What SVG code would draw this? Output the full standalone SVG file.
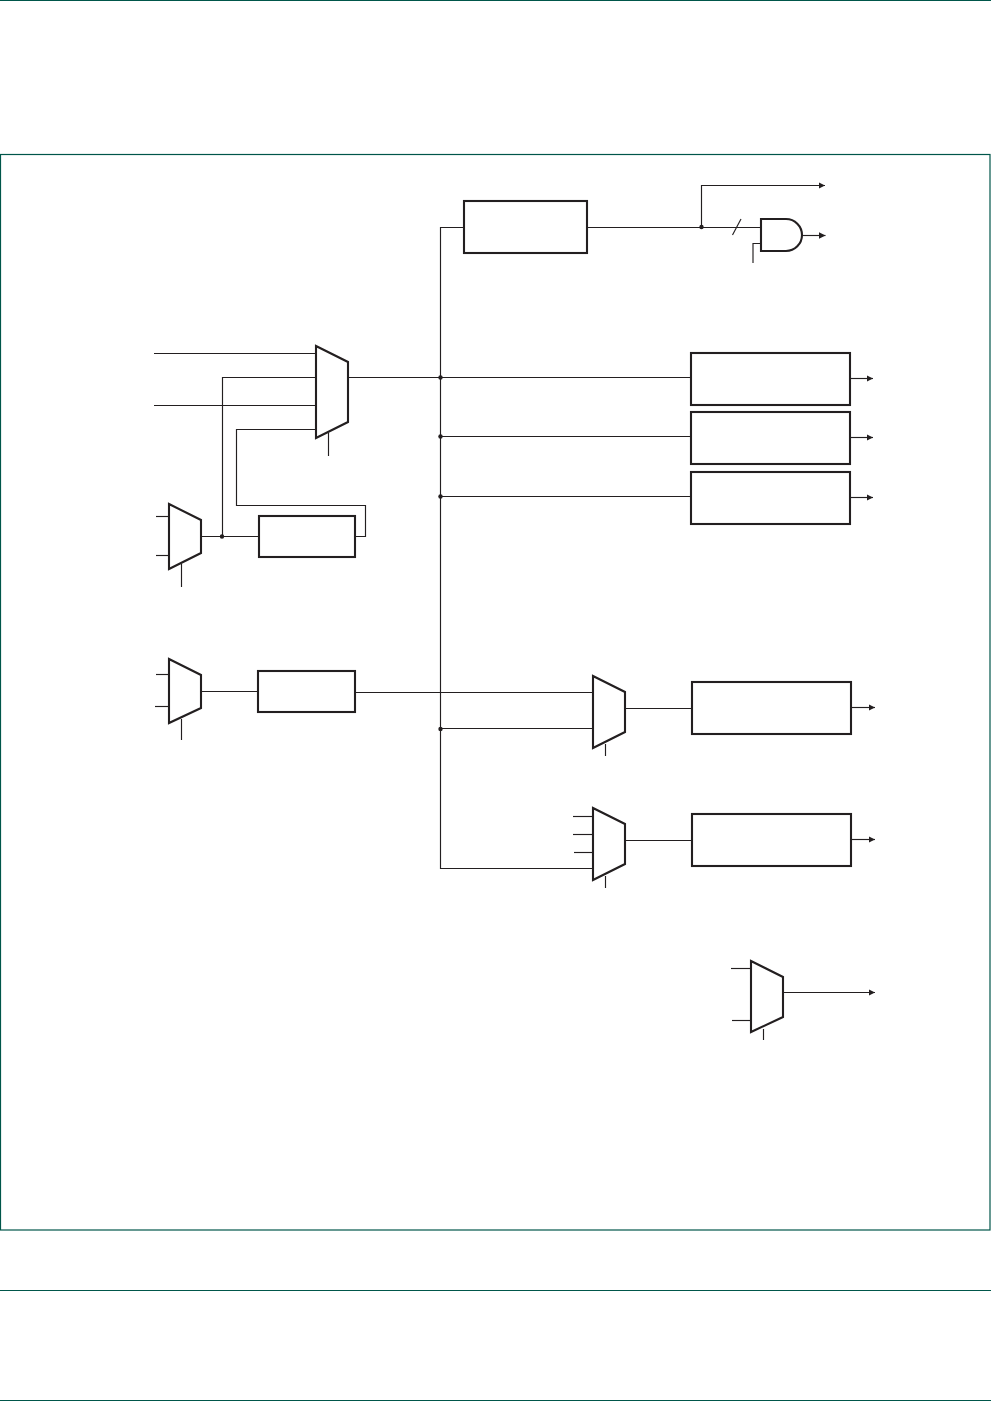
<svg xmlns="http://www.w3.org/2000/svg" width="991" height="1401" viewBox="0 0 991 1401">
<style>
.frame{fill:none;stroke:#00564a;stroke-width:1.2}
.w{fill:none;stroke:#231f20;stroke-width:1.15}
.b{fill:#fff;stroke:#231f20;stroke-width:2.1}
</style>
<defs><marker id="a" markerUnits="userSpaceOnUse" markerWidth="8" markerHeight="8" refX="6.500" refY="4" orient="auto"><path d="M0 .8L6.500 4L0 7.200z" fill="#231f20"/></marker></defs>
<rect width="991" height="1401" fill="#fff"/>
<g id="page-frame">
<line class="frame" x1="0" y1="0.5" x2="991" y2="0.5"/>
<rect class="frame" x="0.500" y="154.500" width="989.500" height="1075.500"/>
<line class="frame" x1="0" y1="1290.500" x2="991" y2="1290.500"/>
<line class="frame" x1="0" y1="1400.500" x2="991" y2="1400.500"/>
</g>
<g id="connectors">
<path class="w" d="M464 227.500H440.500V868.500H593"/>
<path class="w" d="M587 227.500H761"/>
<path class="w" d="M701.500 227.500V185.500H825" marker-end="url(#a)"/>
<path class="w" d="M732.500 235L741 219"/>
<path class="w" d="M802 235.500H825.500" marker-end="url(#a)"/>
<path class="w" d="M761 243.500H753V263"/>
<path class="w" d="M154 353.500H316"/>
<path class="w" d="M154 405.500H316"/>
<path class="w" d="M316 377.500H222.500V536.500"/>
<path class="w" d="M316 429.500H236.500V505.500H365.500V536.500H355"/>
<path class="w" d="M348 377.500H691"/>
<path class="w" d="M440 436.500H691"/>
<path class="w" d="M440 496.500H691"/>
<path class="w" d="M328.500 433V456"/>
<path class="w" d="M201 536.500H259"/>
<path class="w" d="M156 516.500H169"/>
<path class="w" d="M156 555.500H169"/>
<path class="w" d="M181.500 564V587"/>
<path class="w" d="M156 674.500H169"/>
<path class="w" d="M155 706.500H169"/>
<path class="w" d="M181.500 719V740"/>
<path class="w" d="M201 691.500H258"/>
<path class="w" d="M355 692.500H593"/>
<path class="w" d="M440 728.500H593"/>
<path class="w" d="M605.500 744V756"/>
<path class="w" d="M573 816.500H593"/>
<path class="w" d="M573 834.500H593"/>
<path class="w" d="M574 852.500H593"/>
<path class="w" d="M605.500 876V888"/>
<path class="w" d="M625 708.500H692"/>
<path class="w" d="M625 840.500H692"/>
<path class="w" d="M850 378.500H873" marker-end="url(#a)"/>
<path class="w" d="M850 437.500H873" marker-end="url(#a)"/>
<path class="w" d="M850 497.500H873" marker-end="url(#a)"/>
<path class="w" d="M851 707.500H875" marker-end="url(#a)"/>
<path class="w" d="M851 839.500H875" marker-end="url(#a)"/>
<path class="w" d="M731 968.500H751"/>
<path class="w" d="M732 1020.500H751"/>
<path class="w" d="M783 992.500H875" marker-end="url(#a)"/>
<path class="w" d="M763.500 1029V1040"/>
<g fill="#231f20"><circle cx="701.500" cy="227" r="2.200"/><circle cx="440.500" cy="377.500" r="2.200"/><circle cx="440.500" cy="436.500" r="2.200"/><circle cx="440.500" cy="496.500" r="2.200"/><circle cx="222" cy="536.500" r="2.200"/><circle cx="440.500" cy="729" r="2.200"/></g>
</g>
<g id="box-top"><rect class="b" x="464" y="201" width="123" height="52"/></g>
<g id="and-gate"><path class="b" d="M761 219H786A16 16 0 0 1 786 251H761Z"/></g>
<g id="box-r1"><rect class="b" x="691" y="353" width="159" height="52"/></g>
<g id="box-r2"><rect class="b" x="691" y="412" width="159" height="52"/></g>
<g id="box-r3"><rect class="b" x="691" y="472" width="159" height="52"/></g>
<g id="box-r4"><rect class="b" x="692" y="682" width="159" height="52"/></g>
<g id="box-r5"><rect class="b" x="692" y="814" width="159" height="52"/></g>
<g id="box-l1"><rect class="b" x="259" y="516" width="96" height="41"/></g>
<g id="box-l2"><rect class="b" x="258" y="671" width="97" height="41"/></g>
<g id="mux-main"><path class="b" d="M316 346L348 362V422L316 438Z"/></g>
<g id="mux-l1"><path class="b" d="M169 504L201 520V553L169 569Z"/></g>
<g id="mux-l2"><path class="b" d="M169 659L201 675V708L169 723Z"/></g>
<g id="mux-m1"><path class="b" d="M593 676L625 692V732L593 748Z"/></g>
<g id="mux-m2"><path class="b" d="M593 808L625 824V864L593 880Z"/></g>
<g id="mux-b"><path class="b" d="M751 961L783 977V1017L751 1032Z"/></g>
</svg>
